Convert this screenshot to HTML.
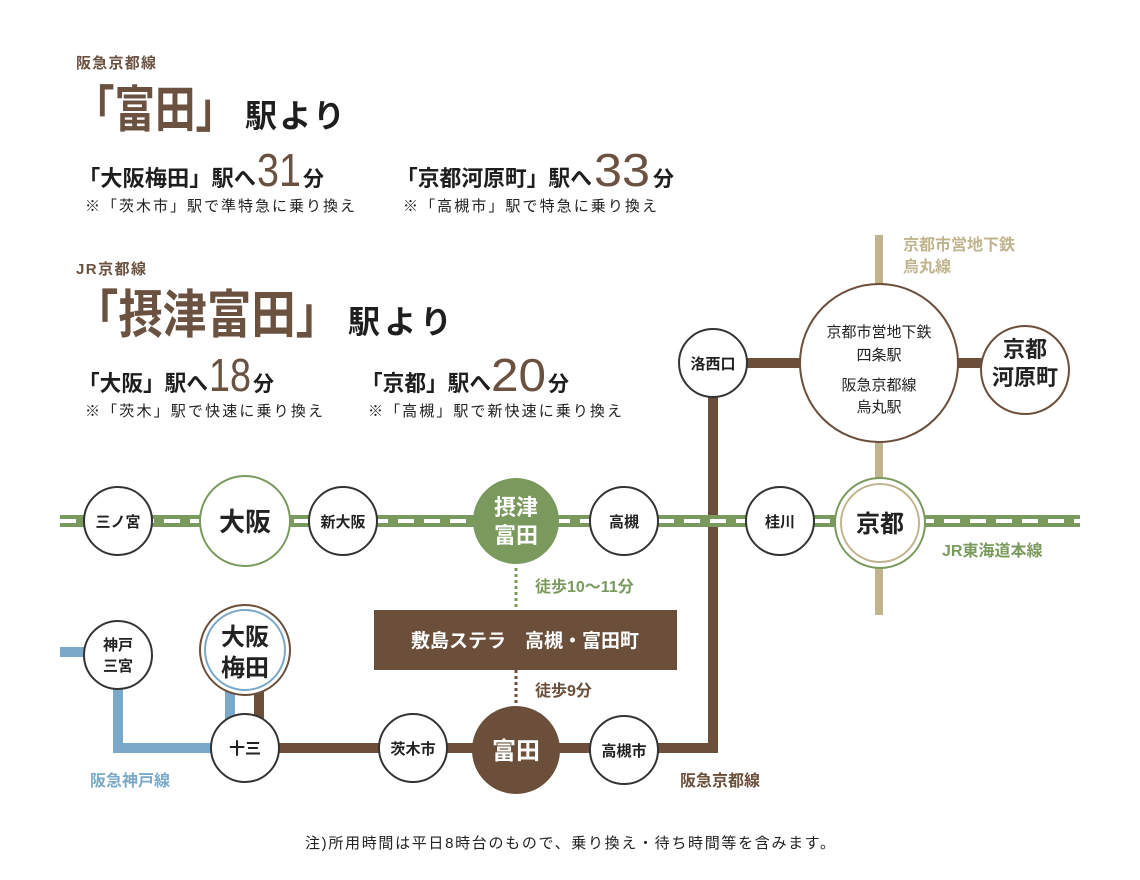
<!DOCTYPE html>
<html><head><meta charset="utf-8"><style>
html,body{margin:0;padding:0;background:#fff;}
svg{display:block;font-family:"Liberation Sans","Noto Sans CJK JP",sans-serif;}
.b{font-weight:700;}
</style></head><body>
<svg width="1140" height="880" viewBox="0 0 1140 880" xmlns="http://www.w3.org/2000/svg">
<!-- header texts -->
<g class="b" fill="#6b5140">
<text x="76" y="68" font-size="15" textLength="80">阪急京都線</text>
<text x="74" y="127" font-size="50" textLength="162" lengthAdjust="spacingAndGlyphs">「富田」</text>
<text x="76" y="274" font-size="15" textLength="70">JR京都線</text>
<text x="74" y="333" font-size="52" textLength="266" lengthAdjust="spacingAndGlyphs">「摂津富田」</text>
</g>
<g fill="#6b5140" font-weight="400">
<text x="257" y="186" font-size="46" textLength="44" lengthAdjust="spacingAndGlyphs">31</text>
<text x="594" y="186" font-size="46" textLength="56" lengthAdjust="spacingAndGlyphs">33</text>
<text x="209" y="391" font-size="46" textLength="42" lengthAdjust="spacingAndGlyphs">18</text>
<text x="491" y="391" font-size="46" textLength="55" lengthAdjust="spacingAndGlyphs">20</text>
</g>
<g class="b" fill="#1e1e1e">
<text x="245" y="127" font-size="32" textLength="100">駅より</text>
<text x="348" y="333" font-size="32" textLength="104">駅より</text>
<text x="78" y="186" font-size="22" textLength="178" lengthAdjust="spacingAndGlyphs">「大阪梅田」駅へ</text>
<text x="303" y="186" font-size="21">分</text>
<text x="396" y="186" font-size="22" textLength="196" lengthAdjust="spacingAndGlyphs">「京都河原町」駅へ</text>
<text x="653" y="186" font-size="21">分</text>
<text x="78" y="391" font-size="22" textLength="130" lengthAdjust="spacingAndGlyphs">「大阪」駅へ</text>
<text x="253" y="391" font-size="21">分</text>
<text x="361" y="391" font-size="22" textLength="130" lengthAdjust="spacingAndGlyphs">「京都」駅へ</text>
<text x="548" y="391" font-size="21">分</text>
</g>
<g fill="#222" font-size="15">
<text x="85" y="211" textLength="270">※「茨木市」駅で準特急に乗り換え</text>
<text x="403" y="211" textLength="254">※「高槻市」駅で特急に乗り換え</text>
<text x="85" y="416" textLength="238">※「茨木」駅で快速に乗り換え</text>
<text x="368" y="416" textLength="254">※「高槻」駅で新快速に乗り換え</text>
<text x="305" y="848" textLength="530">注)所用時間は平日8時台のもので、乗り換え・待ち時間等を含みます。</text>
</g>

<!-- lines -->
<line x1="879" y1="235" x2="879" y2="615" stroke="#c0b48e" stroke-width="8"/>
<line x1="60" y1="652" x2="118" y2="652" stroke="#79a8c8" stroke-width="10"/>
<polyline points="118,655 118,748 245,748" fill="none" stroke="#79a8c8" stroke-width="10"/>
<line x1="230" y1="650" x2="230" y2="748" stroke="#79a8c8" stroke-width="10"/>
<line x1="259" y1="650" x2="259" y2="748" stroke="#6b4f3a" stroke-width="10"/>
<line x1="245" y1="748" x2="713" y2="748" stroke="#6b4f3a" stroke-width="10"/>
<line x1="713" y1="363" x2="713" y2="753" stroke="#6b4f3a" stroke-width="10"/>
<line x1="713" y1="363" x2="1025" y2="363" stroke="#6b4f3a" stroke-width="10"/>
<line x1="60" y1="521" x2="1080" y2="521" stroke="#7a9a5d" stroke-width="12"/>
<line x1="60" y1="521" x2="1080" y2="521" stroke="#fff" stroke-width="4" stroke-dasharray="16 10"/>
<line x1="516" y1="568" x2="516" y2="610" stroke="#7a9a5d" stroke-width="3" stroke-dasharray="3 3"/>
<line x1="516" y1="670" x2="516" y2="706" stroke="#6b4f3a" stroke-width="3" stroke-dasharray="3 3"/>

<!-- box -->
<rect x="374" y="610" width="303" height="60" fill="#6b4f3a"/>
<text x="525" y="647" text-anchor="middle" class="b" fill="#fff" font-size="19">敷島ステラ　高槻・富田町</text>
<g class="b" font-size="16">
<text x="535" y="592" fill="#7a9a5d">徒歩10～11分</text>
<text x="535" y="696" fill="#6b4f3a">徒歩9分</text>
<text x="90" y="786" fill="#79a8c8">阪急神戸線</text>
<text x="680" y="786" fill="#6b4f3a">阪急京都線</text>
<text x="942" y="556" fill="#7a9a5d">JR東海道本線</text>
<text x="903" y="250" fill="#c0b48e">京都市営地下鉄</text>
<text x="903" y="272" fill="#c0b48e">烏丸線</text>
</g>

<!-- stations -->
<g fill="#fff" stroke="#333" stroke-width="2">
<circle cx="118" cy="521" r="34"/>
<circle cx="343" cy="521" r="34"/>
<circle cx="624" cy="521" r="34"/>
<circle cx="780" cy="521" r="34"/>
<circle cx="713" cy="363" r="34"/>
<circle cx="118" cy="655" r="34"/>
<circle cx="245" cy="748" r="34"/>
<circle cx="413" cy="748" r="34"/>
<circle cx="624" cy="750" r="34"/>
<circle cx="879" cy="363" r="79" stroke="#6b4f3a"/>
<circle cx="1025" cy="370" r="44" stroke="#6b4f3a"/>
</g>
<circle cx="245" cy="521" r="45" fill="#fff" stroke="#7a9a5d" stroke-width="2"/>
<circle cx="516" cy="521" r="43" fill="#7a9a5d"/>
<circle cx="880" cy="523" r="45" fill="#fff" stroke="#7a9a5d" stroke-width="2"/>
<circle cx="880" cy="523" r="39" fill="none" stroke="#c0b48e" stroke-width="2"/>
<circle cx="245" cy="650" r="45" fill="#fff" stroke="#6b4f3a" stroke-width="2"/>
<circle cx="245" cy="650" r="40" fill="none" stroke="#79a8c8" stroke-width="2"/>
<circle cx="516" cy="750" r="44" fill="#6b4f3a"/>

<g class="b" fill="#222" text-anchor="middle">
<text x="118" y="527" font-size="15">三ノ宮</text>
<text x="245" y="531" font-size="26">大阪</text>
<text x="343" y="527" font-size="15">新大阪</text>
<text x="624" y="527" font-size="15">高槻</text>
<text x="780" y="527" font-size="15">桂川</text>
<text x="880" y="532" font-size="24">京都</text>
<text x="713" y="369" font-size="15">洛西口</text>
<text x="118" y="650" font-size="15">神戸</text>
<text x="118" y="671" font-size="15">三宮</text>
<text x="245" y="645" font-size="24">大阪</text>
<text x="245" y="676" font-size="24">梅田</text>
<text x="245" y="754" font-size="16">十三</text>
<text x="413" y="754" font-size="15">茨木市</text>
<text x="624" y="756" font-size="15">高槻市</text>
<text x="1025" y="357" font-size="22">京都</text>
<text x="1025" y="385" font-size="22">河原町</text>
<text x="516" y="515" font-size="22" fill="#fff">摂津</text>
<text x="516" y="543" font-size="22" fill="#fff">富田</text>
<text x="516" y="759" font-size="24" fill="#fff">富田</text>
</g>
<g fill="#222" text-anchor="middle" font-size="15">
<text x="879" y="337">京都市営地下鉄</text>
<text x="879" y="360">四条駅</text>
<text x="879" y="390">阪急京都線</text>
<text x="879" y="412">烏丸駅</text>
</g>
</svg>
</body></html>
